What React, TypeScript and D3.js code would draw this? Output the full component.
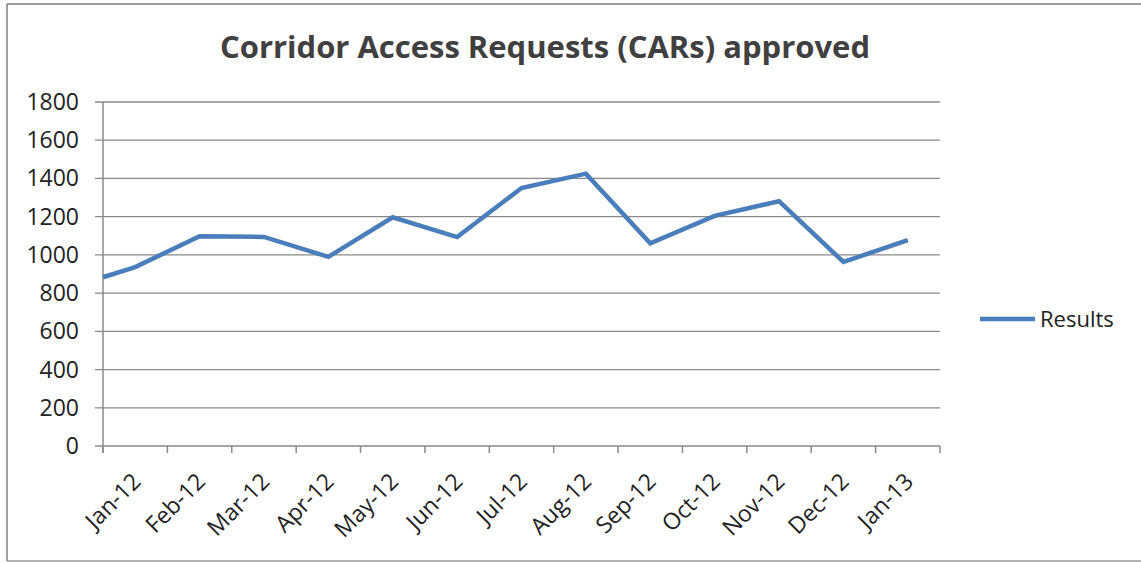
import React from "react";
import * as d3 from "d3";

const categories = [
  "Jan-12", "Feb-12", "Mar-12", "Apr-12", "May-12", "Jun-12", "Jul-12",
  "Aug-12", "Sep-12", "Oct-12", "Nov-12", "Dec-12", "Jan-13",
];
const results = [936, 1098, 1094, 990, 1197, 1093, 1350, 1425, 1061, 1204, 1281, 963, 1077];
// the plotted line begins at the left axis edge with this value
const leadInValue = 883;
const yTicks = [0, 200, 400, 600, 800, 1000, 1200, 1400, 1600, 1800];
const title = "Corridor Access Requests (CARs) approved";
const seriesName = "Results";

const W = 1141;
const H = 563;
const left = 103;
const right = 940;
const top = 102;
const bottom = 446;
const FONT = "'Open Sans', sans-serif";
const LINE_COLOR = "#4a7dbb";
const GRID = "#8a8a8a";

export default function App() {
  const x = d3.scaleBand<string>().domain(categories).range([left, right]).paddingInner(0).paddingOuter(0);
  const y = d3.scaleLinear().domain([0, 1800]).range([bottom, top]);
  const cx = (c: string) => (x(c) as number) + x.bandwidth() / 2;

  const pts: [number, number][] = [[left, y(leadInValue)], ...categories.map((c, i) => [cx(c), y(results[i])] as [number, number])];
  const line = d3.line<[number, number]>().x((d) => d[0]).y((d) => d[1]);

  const tickXs = [...categories.map((c) => x(c) as number), right];

  return (
    <svg width={W} height={H} style={{ position: "absolute", left: 0, top: 0, background: "#fff" }}>
      <rect x={0} y={0} width={W} height={H} fill="#fff" />
      {/* frame */}
      <line x1={7} y1={4} x2={W} y2={4} stroke="#7f7f7f" strokeWidth={1.5} />
      <line x1={7} y1={4} x2={7} y2={561} stroke="#7f7f7f" strokeWidth={1.5} />
      <line x1={7} y1={561} x2={W} y2={561} stroke="#9a9a9a" strokeWidth={1.5} />

      <text x={545} y={58} textAnchor="middle" fontFamily={FONT} fontWeight="bold" fontSize={30} fill="#404040"
        textLength={650} lengthAdjust="spacingAndGlyphs">
        {title}
      </text>

      {/* gridlines and y ticks */}
      {yTicks.map((t) => (
        <g key={t}>
          <line x1={95} x2={right} y1={y(t)} y2={y(t)} stroke={GRID} strokeWidth={1.3} />
          <text x={79} y={y(t) + 8} textAnchor="end" fontFamily={FONT} fontSize={23} fill="#222">
            {t}
          </text>
        </g>
      ))}
      <line x1={left} x2={left} y1={top} y2={bottom + 7} stroke={GRID} strokeWidth={1.5} />
      {tickXs.map((tx, i) => (
        <line key={i} x1={tx} x2={tx} y1={bottom} y2={bottom + 7} stroke={GRID} strokeWidth={1.5} />
      ))}
      {categories.map((c) => (
        <text
          key={c}
          transform={`translate(${cx(c) + 7},${bottom + 37}) rotate(-45)`}
          textAnchor="end"
          fontFamily={FONT}
          fontSize={23}
          fill="#222"
        >
          {c}
        </text>
      ))}

      <path d={line(pts) || ""} fill="none" stroke={LINE_COLOR} strokeWidth={4.5} strokeLinejoin="miter" />

      {/* legend */}
      <line x1={980} x2={1035} y1={319} y2={319} stroke={LINE_COLOR} strokeWidth={4.5} />
      <text x={1040} y={327} fontFamily={FONT} fontSize={22} fill="#222">
        {seriesName}
      </text>
    </svg>
  );
}
